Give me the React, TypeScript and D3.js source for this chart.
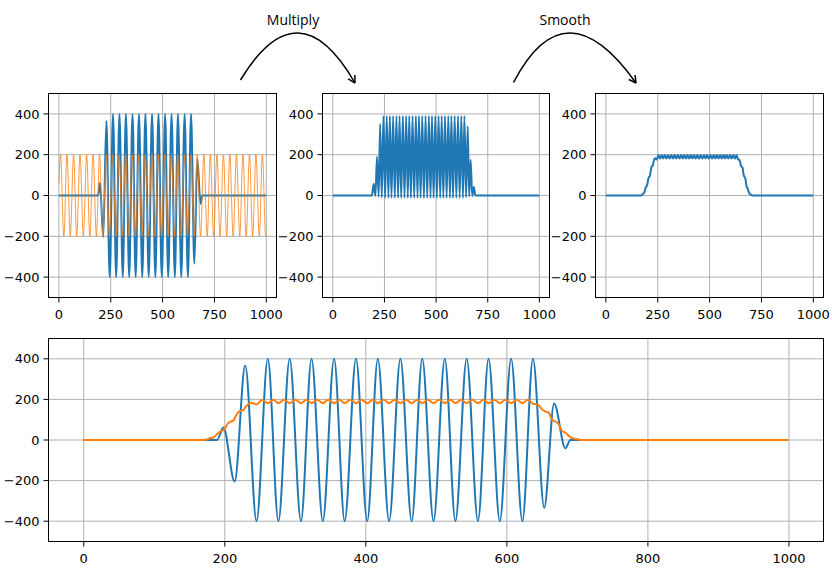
import * as d3 from 'd3';

const W = 832;
const H = 570;

type Pt = [number, number];
type Box = { l: number; t: number; r: number; b: number };

// measured signal (blue): extrema positions and values, plus the flat parts
const SIG_X = [198, 214, 229, 245, 261, 276, 292, 308, 323, 339, 355, 370, 386, 402, 417, 433,
  449, 465, 480, 496, 512, 527, 543, 559, 574, 590, 606, 622, 637, 653, 667, 683];
const SIG_Y = [62, -204, 367, -400, 400, -400, 400, -400, 400, -400, 400, -400, 400, -400, 400, -400,
  400, -400, 400, -400, 400, -400, 400, -400, 400, -400, 400, -400, 400, -334, 180, -41];
const SIG_FLAT_X = [0, 189, 690, 999];
const SIG_FLAT_Y = [0, 0, 0, 0];

// reference (orange, panel 1): positions of its highs and lows
const REF_HI_X = [8, 39, 71, 102, 134, 165, 196, 228, 259, 291, 322, 353, 385, 416, 448, 479,
  510, 542, 573, 605, 636, 667, 699, 730, 762, 793, 824, 856, 887, 919, 950, 981];
const REF_LO_X = [24, 55, 86, 118, 149, 181, 212, 244, 275, 306, 338, 369, 400, 432, 463, 495,
  526, 558, 589, 620, 652, 683, 715, 746, 777, 809, 840, 872, 903, 934, 966, 997];
const REF_HI = 200;
const REF_LO = -200;
const REF_END_X = [0, 999];
const REF_END_Y = [60, -190];

// product (panel 2): peaks sit on the signal extrema, dips between them
const MUL_PEAK_Y = [57, 190, 350, 390, 390, 390, 390, 390, 390, 390, 390, 390, 390, 390, 390, 390,
  390, 390, 390, 390, 390, 390, 390, 390, 390, 390, 390, 390, 390, 340, 175, 42];
const MUL_DIP_X = [206, 222, 237, 253, 269, 284, 300, 316, 331, 347, 363, 378, 394, 410, 425, 441,
  457, 473, 488, 504, 520, 535, 551, 567, 582, 598, 614, 630, 645, 660, 675];
const MUL_DIP_Y = [-2, -6, -10, -12, -12, -12, -12, -12, -12, -12, -12, -12, -12, -12, -12, -12,
  -12, -12, -12, -12, -12, -12, -12, -12, -12, -12, -12, -12, -9, -5, -2];

// smoothed product (panel 3, orange in the bottom panel)
const SMO_RISE_X = [0, 170, 174, 180, 184, 188, 192, 196, 200, 204, 208, 212, 216, 220, 226, 230, 234, 237, 245];
const SMO_RISE_Y = [0, 0, 2, 10, 12, 25, 38, 45, 55, 80, 91, 95, 120, 140, 147, 165, 178, 183, 176];
const SMO_HI_X = [253, 269, 284, 300, 316, 331, 347, 363, 378, 394, 410, 425, 441, 457, 473, 488,
  504, 520, 535, 551, 567, 582, 598, 614, 630];
const SMO_LO_X = [261, 276, 292, 308, 323, 339, 355, 370, 386, 402, 417, 433, 449, 465, 480, 496,
  512, 527, 543, 559, 574, 590, 606, 622];
const SMO_HI = 198;
const SMO_LO = 181;
const SMO_FALL_X = [637, 641, 645, 650, 655, 659, 664, 669, 673, 678, 683, 688, 692, 698, 706, 999];
const SMO_FALL_Y = [178, 176, 172, 150, 140, 136, 100, 90, 80, 45, 36, 20, 10, 5, 0, 0];

const TOP_X_TICKS = [0, 250, 500, 750, 1000];
const BOTTOM_X_TICKS = [0, 200, 400, 600, 800, 1000];
const Y_TICKS = [-400, -200, 0, 200, 400];

const BLUE = '#1f77b4';
const ORANGE = '#ff7f0e';
const FONT = '"DejaVu Sans", sans-serif';

const zip = (xs: number[], ys: number[]): Pt[] => xs.map((x, i) => [x, ys[i]] as Pt);
const level = (xs: number[], v: number): Pt[] => xs.map((x) => [x, v] as Pt);
const byX = (...parts: Pt[][]): Pt[] => parts.flat().sort((a, b) => a[0] - b[0]);

const signal = byX(zip(SIG_FLAT_X, SIG_FLAT_Y), zip(SIG_X, SIG_Y));
const reference = byX(zip(REF_END_X, REF_END_Y), level(REF_HI_X, REF_HI), level(REF_LO_X, REF_LO));
const product = byX(zip(SIG_FLAT_X, SIG_FLAT_Y), zip(SIG_X, MUL_PEAK_Y), zip(MUL_DIP_X, MUL_DIP_Y));
const smoothed = byX(zip(SMO_RISE_X, SMO_RISE_Y), level(SMO_HI_X, SMO_HI), level(SMO_LO_X, SMO_LO),
  zip(SMO_FALL_X, SMO_FALL_Y));

type Series = { data: Pt[]; color: string; width: number };

const Panel = ({ box, xTicks, series }: { box: Box; xTicks: number[]; series: Series[] }) => {
  const x = d3.scaleLinear().domain([-50, 1049]).range([box.l, box.r]);
  const y = d3.scaleLinear().domain([-500, 500]).range([box.b, box.t]);
  const line = d3.line<Pt>().x((d) => x(d[0])).y((d) => y(d[1])).curve(d3.curveMonotoneX);
  const fmt = d3.format('d');

  return (
    <g>
      {/* grid */}
      {xTicks.map((t) => (
        <line key={'gx' + t} x1={x(t)} x2={x(t)} y1={box.t} y2={box.b} stroke="#b0b0b0" strokeWidth={1} />
      ))}
      {Y_TICKS.map((t) => (
        <line key={'gy' + t} x1={box.l} x2={box.r} y1={y(t)} y2={y(t)} stroke="#b0b0b0" strokeWidth={1} />
      ))}
      {series.map((s, i) => (
        <path key={i} d={line(s.data) ?? ''} fill="none" stroke={s.color} strokeWidth={s.width}
          strokeLinejoin="round" />
      ))}
      <rect x={box.l} y={box.t} width={box.r - box.l} height={box.b - box.t} fill="none" stroke="#000" strokeWidth={1} />
      {/* ticks */}
      {xTicks.map((t) => (
        <g key={'tx' + t}>
          <line x1={x(t)} x2={x(t)} y1={box.b} y2={box.b + 5} stroke="#000" strokeWidth={1} />
          <text x={x(t)} y={box.b + 21} textAnchor="middle" fontSize={13} fontFamily={FONT} fill="#000">
            {fmt(t)}
          </text>
        </g>
      ))}
      {Y_TICKS.map((t) => (
        <g key={'ty' + t}>
          <line x1={box.l - 5} x2={box.l} y1={y(t)} y2={y(t)} stroke="#000" strokeWidth={1} />
          <text x={box.l - 9} y={y(t)} dy="0.36em" textAnchor="end" fontSize={13} fontFamily={FONT} fill="#000">
            {fmt(t)}
          </text>
        </g>
      ))}
    </g>
  );
};

const Arrow = ({ from, apex, to, label }: { from: Pt; apex: Pt; to: Pt; label: string }) => {
  // quadratic control point so that the curve passes through the apex
  const c: Pt = [2 * apex[0] - (from[0] + to[0]) / 2, 2 * apex[1] - (from[1] + to[1]) / 2];
  const path = d3.path();
  path.moveTo(from[0], from[1]);
  path.quadraticCurveTo(c[0], c[1], to[0], to[1]);
  const ang = Math.atan2(to[1] - c[1], to[0] - c[0]);
  const head = [ang + Math.PI - 0.5, ang + Math.PI + 0.5].map(
    (a) => `M${to[0] + 8 * Math.cos(a)},${to[1] + 8 * Math.sin(a)}L${to[0]},${to[1]}`
  );
  return (
    <g fill="none" stroke="#000" strokeWidth={1.5}>
      <path d={path.toString()} />
      <path d={head.join('')} />
      <text x={apex[0] - 5} y={25} textAnchor="middle" fontSize={14} fontFamily='"Open Sans", sans-serif'
        fill="#000" stroke="none">
        {label}
      </text>
    </g>
  );
};

export default function App() {
  return (
    <svg width={W} height={H} style={{ position: 'absolute', left: 0, top: 0, background: '#fff' }}>
      <rect width={W} height={H} fill="#fff" />
      <Panel box={{ l: 48.5, t: 93.5, r: 276.5, b: 297.5 }} xTicks={TOP_X_TICKS}
        series={[{ data: signal, color: BLUE, width: 2 }, { data: reference, color: ORANGE, width: 0.8 }]} />
      <Panel box={{ l: 322.5, t: 93.5, r: 549.5, b: 297.5 }} xTicks={TOP_X_TICKS}
        series={[{ data: product, color: BLUE, width: 2 }]} />
      <Panel box={{ l: 595.5, t: 93.5, r: 823.5, b: 297.5 }} xTicks={TOP_X_TICKS}
        series={[{ data: smoothed, color: BLUE, width: 2 }]} />
      <Panel box={{ l: 48.5, t: 338.5, r: 823.5, b: 541.5 }} xTicks={BOTTOM_X_TICKS}
        series={[{ data: signal, color: BLUE, width: 2 }, { data: smoothed, color: ORANGE, width: 2 }]} />
      <Arrow from={[240.5, 80]} apex={[298, 33]} to={[355, 83]} label="Multiply" />
      <Arrow from={[513.5, 82.5]} apex={[570, 33]} to={[636, 83]} label="Smooth" />
    </svg>
  );
}
